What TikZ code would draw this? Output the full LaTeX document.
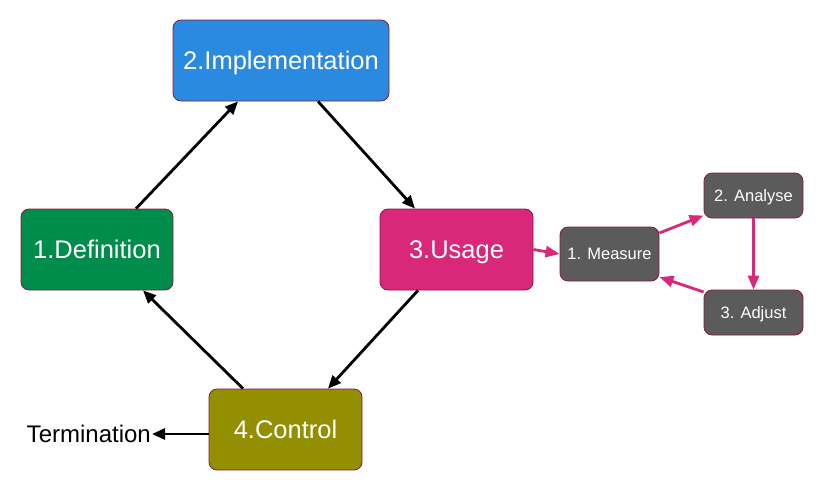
\documentclass[tikz,border=0pt]{standalone}
\usepackage{fontspec}
\setmainfont{Liberation Sans}
\usetikzlibrary{arrows.meta}
\definecolor{cblue}{HTML}{2A8ADF}
\definecolor{cgreen}{HTML}{008C4B}
\definecolor{cpink}{HTML}{D9287A}
\definecolor{colive}{HTML}{948F00}
\definecolor{cgray}{HTML}{5B5B5B}
\definecolor{cborder}{HTML}{8B1A3E}
\tikzset{
  mainbox/.style={draw=cborder, line width=0.8pt, rounded corners=8pt, text=white,
    minimum height=81pt, inner sep=0pt, text height=18.3pt, text depth=0pt,
    font=\fontsize{25.5}{30}\selectfont},
  smallbox/.style={draw=cborder, line width=0.8pt, rounded corners=8pt, fill=cgray, text=white,
    minimum width=99pt, inner sep=0pt, text height=11.8pt, text depth=0pt,
    font=\fontsize{16.5}{20}\selectfont},
  blackarrow/.style={line width=2.8pt, -{Triangle[length=13pt,width=11pt]}},
  pinkarrow/.style={draw=cpink, line width=2.8pt, -{Triangle[length=14pt,width=11pt]}, color=cpink},
}
\begin{document}
\begin{tikzpicture}[x=1pt,y=-1pt]
\useasboundingbox (0,0) rectangle (823,490);
\node[mainbox, fill=cblue, minimum width=216pt] (impl) at (281,60.5) {2.Implementation};
\node[mainbox, fill=cgreen, minimum width=152pt] (def) at (97,249.5) {1.Definition};
\node[mainbox, fill=cpink, minimum width=153pt] (use) at (456.5,249.5) {3.Usage};
\node[mainbox, fill=colive, minimum width=153pt] (ctrl) at (285.5,429.5) {4.Control};
\node[font=\fontsize{24}{28}\selectfont, inner sep=0pt, text height=17.2pt, text depth=0pt, anchor=east] (term) at (151,434) {Termination};
\node[smallbox, minimum height=54pt] (meas) at (609.5,254) {1. Measure};
\node[smallbox, minimum height=45pt] (ana) at (753.5,195.5) {2. Analyse};
\node[smallbox, minimum height=45pt] (adj) at (753.5,312.5) {3. Adjust};

\draw[blackarrow] ([xshift=39pt]def.north) -- ([xshift=-43pt]impl.south);
\draw[blackarrow] ([xshift=37pt]impl.south) -- ([xshift=-41.5pt]use.north);
\draw[blackarrow] ([xshift=-38.5pt]use.south) -- ([xshift=42.5pt]ctrl.north);
\draw[blackarrow] ([xshift=-42.5pt]ctrl.north) -- ([xshift=46pt]def.south);
\draw[blackarrow] (ctrl.west |- term.east) -- ([xshift=1pt]term.east);

\draw[pinkarrow] (use.east) -- (meas.west);
\draw[pinkarrow] ([yshift=21pt]meas.east) -- ([yshift=-20pt]ana.west);
\draw[pinkarrow] (ana.south) -- (adj.north);
\draw[pinkarrow] ([yshift=20.5pt]adj.west) -- ([yshift=-23pt]meas.east);
\end{tikzpicture}
\end{document}
